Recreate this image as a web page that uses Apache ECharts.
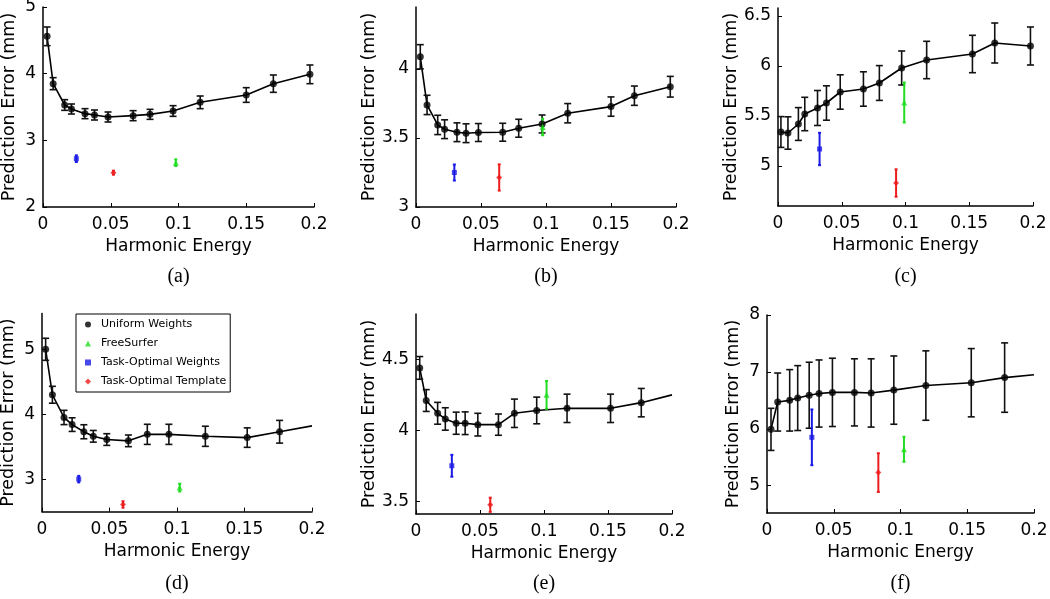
<!DOCTYPE html>
<html><head><meta charset="utf-8">
<script src="https://cdn.jsdelivr.net/npm/echarts@6/dist/echarts.min.js"></script>
<style>html,body{margin:0;padding:0;background:#fff}#c{width:1050px;height:599px}</style>
</head><body><div id="c"></div>
<script>
// ---------- tick labels ----------
const xTicks = [0, 0.05, 0.1, 0.15, 0.2];
const aYTicks = [2, 3, 4, 5];
const bYTicks = [3, 3.5, 4];
const cYTicks = [5, 5.5, 6, 6.5];
const dYTicks = [3, 4, 5];
const eYTicks = [3.5, 4, 4.5];
const fYTicks = [5, 6, 7, 8];

// ---------- panel (a) ----------
const aX   = [0.003, 0.0075, 0.016, 0.021, 0.031, 0.038, 0.048, 0.0665, 0.079, 0.096, 0.116, 0.150, 0.170, 0.197];
const aY   = [4.56, 3.85, 3.53, 3.47, 3.40, 3.38, 3.35, 3.37, 3.39, 3.44, 3.57, 3.68, 3.85, 3.99];
const aErr = [0.14, 0.09, 0.08, 0.075, 0.075, 0.075, 0.075, 0.075, 0.075, 0.08, 0.095, 0.11, 0.13, 0.14];
const aFS  = [0.098, 2.665, 0.05];   // FreeSurfer [x, y, err]
const aTOW = [0.0246, 2.725, 0.05];  // Task-Optimal Weights
const aTOT = [0.052, 2.515, 0.03];   // Task-Optimal Template

// ---------- panel (b) ----------
const bX   = [0.0033, 0.0085, 0.0167, 0.022, 0.0315, 0.0385, 0.048, 0.0667, 0.079, 0.097, 0.1167, 0.150, 0.168, 0.1956];
const bY   = [4.089, 3.74, 3.595, 3.564, 3.542, 3.535, 3.54, 3.542, 3.571, 3.602, 3.68, 3.728, 3.807, 3.872];
const bErr = [0.088, 0.07, 0.07, 0.068, 0.068, 0.068, 0.065, 0.065, 0.065, 0.065, 0.07, 0.07, 0.07, 0.075];
const bFS  = [0.0974, 3.58, 0.06];
const bTOW = [0.0295, 3.25, 0.058];
const bTOT = [0.064, 3.214, 0.095];

// ---------- panel (c) ----------
const cX   = [0.0023, 0.0078, 0.016, 0.021, 0.031, 0.038, 0.0488, 0.067, 0.0795, 0.097, 0.1166, 0.1525, 0.170, 0.198];
const cY   = [5.34, 5.33, 5.42, 5.52, 5.58, 5.63, 5.74, 5.77, 5.83, 5.98, 6.06, 6.12, 6.23, 6.20];
const cErr = [0.154, 0.162, 0.164, 0.167, 0.175, 0.172, 0.172, 0.172, 0.174, 0.17, 0.187, 0.187, 0.2, 0.19];
const cFS  = [0.099, 5.635, 0.2];
const cTOW = [0.0326, 5.17, 0.162];
const cTOT = [0.0926, 4.83, 0.137];

// ---------- panel (d) ----------
const dX   = [0.0027, 0.0077, 0.0163, 0.0223, 0.031, 0.038, 0.048, 0.064, 0.078, 0.094, 0.121, 0.152, 0.176];
const dY   = [5.00, 4.30, 3.95, 3.84, 3.73, 3.66, 3.61, 3.59, 3.69, 3.69, 3.66, 3.64, 3.73];
const dErr = [0.17, 0.13, 0.11, 0.105, 0.108, 0.09, 0.09, 0.09, 0.155, 0.155, 0.155, 0.15, 0.175];
const dTail = [0.2, 3.82];
const dFS  = [0.102, 2.87, 0.06];
const dTOW = [0.0272, 3.0, 0.05];
const dTOT = [0.060, 2.61, 0.05];

// ---------- panel (e) ----------
const eX   = [0.0029, 0.008, 0.0169, 0.0229, 0.0314, 0.0384, 0.0483, 0.0644, 0.0769, 0.0943, 0.118, 0.152, 0.176];
const eY   = [4.44, 4.21, 4.12, 4.08, 4.05, 4.05, 4.04, 4.04, 4.12, 4.14, 4.155, 4.155, 4.195];
const eErr = [0.08, 0.077, 0.077, 0.079, 0.078, 0.08, 0.08, 0.075, 0.1, 0.094, 0.1, 0.1, 0.1];
const eTail = [0.2, 4.25];
const eFS  = [0.102, 4.25, 0.098];
const eTOW = [0.028, 3.75, 0.077];
const eTOT = [0.058, 3.475, 0.05];

// ---------- panel (f) ----------
const fX   = [0.003, 0.008, 0.017, 0.023, 0.0316, 0.039, 0.049, 0.0655, 0.078, 0.095, 0.119, 0.153, 0.178];
const fY   = [5.99, 6.47, 6.50, 6.54, 6.59, 6.62, 6.64, 6.64, 6.63, 6.68, 6.76, 6.81, 6.90];
const fErr = [0.37, 0.51, 0.54, 0.57, 0.58, 0.59, 0.60, 0.59, 0.60, 0.60, 0.61, 0.60, 0.61];
const fTail = [0.2, 6.95];
const fFS  = [0.1026, 5.64, 0.22];
const fTOW = [0.0336, 5.85, 0.49];
const fTOT = [0.0834, 5.23, 0.34];

const captions = ['(a)', '(b)', '(c)', '(d)', '(e)', '(f)'];

// ---------- layout (pixels) ----------
const grids = [
  {left: 43,  top: 7,     width: 271, height: 200, ymin: 2,    ymax: 5},
  {left: 416, top: 7,     width: 260, height: 200, ymin: 3,    ymax: 4.45},
  {left: 778, top: 8,     width: 255, height: 198, ymin: 4.6,  ymax: 6.58},
  {left: 42,  top: 313.6, width: 270, height: 198, ymin: 2.5,  ymax: 5.55},
  {left: 416, top: 314,   width: 256, height: 200, ymin: 3.41, ymax: 4.82},
  {left: 767, top: 315,   width: 267, height: 198, ymin: 4.52, ymax: 8}
];

const panels = [
  {X: aX, Y: aY, E: aErr, tail: null,  FS: aFS, TOW: aTOW, TOT: aTOT, yt: aYTicks},
  {X: bX, Y: bY, E: bErr, tail: null,  FS: bFS, TOW: bTOW, TOT: bTOT, yt: bYTicks},
  {X: cX, Y: cY, E: cErr, tail: null,  FS: cFS, TOW: cTOW, TOT: cTOT, yt: cYTicks},
  {X: dX, Y: dY, E: dErr, tail: dTail, FS: dFS, TOW: dTOW, TOT: dTOT, yt: dYTicks},
  {X: eX, Y: eY, E: eErr, tail: eTail, FS: eFS, TOW: eTOW, TOT: eTOT, yt: eYTicks},
  {X: fX, Y: fY, E: fErr, tail: fTail, FS: fFS, TOW: fTOW, TOT: fTOT, yt: fYTicks}
];

const BLACK = '#000000', GREEN = '#22dd22', BLUE = '#1a1ae6', RED = '#ee1c1c';
const FONT = 'DejaVu Sans';

function errRender(capW, lw, color) {
  return function (params, api) {
    const x = api.value(0), lo = api.value(1), hi = api.value(2);
    const p1 = api.coord([x, lo]), p2 = api.coord([x, hi]);
    const st = {stroke: color, lineWidth: lw};
    const ch = [{type: 'line', shape: {x1: p1[0], y1: p1[1], x2: p2[0], y2: p2[1]}, style: st}];
    if (capW > 0) {
      ch.push({type: 'line', shape: {x1: p1[0] - capW, y1: p1[1], x2: p1[0] + capW, y2: p1[1]}, style: st});
      ch.push({type: 'line', shape: {x1: p2[0] - capW, y1: p2[1], x2: p2[0] + capW, y2: p2[1]}, style: st});
    }
    return {type: 'group', children: ch};
  };
}

const gridOpt = [], xAxes = [], yAxes = [], series = [], graphics = [];

grids.forEach((g, i) => {
  gridOpt.push({left: g.left, top: g.top, width: g.width, height: g.height, outerBoundsMode: 'none', containLabel: false});
  xAxes.push({
    gridIndex: i, type: 'value', min: 0, max: 0.2, interval: 0.05,
    axisLine: {show: true, onZero: false, lineStyle: {color: BLACK, width: 1.5}},
    axisTick: {show: true, inside: true, length: 4, lineStyle: {color: BLACK, width: 1}, customValues: xTicks},
    axisLabel: {margin: 9, color: BLACK, fontFamily: FONT, fontSize: 17, customValues: xTicks, showMaxLabel: true, showMinLabel: true},
    splitLine: {show: false},
    name: 'Harmonic Energy', nameLocation: 'middle', nameGap: 31,
    nameTextStyle: {color: BLACK, fontFamily: FONT, fontSize: 17}
  });
  const p = panels[i];
  yAxes.push({
    gridIndex: i, type: 'value', min: g.ymin, max: g.ymax,
    axisLine: {show: true, onZero: false, lineStyle: {color: BLACK, width: 1.5}},
    axisTick: {show: true, inside: true, length: 4, lineStyle: {color: BLACK, width: 1}, customValues: p.yt},
    axisLabel: {margin: 7, color: BLACK, fontFamily: FONT, fontSize: 17, customValues: p.yt},
    splitLine: {show: false},
    name: 'Prediction Error (mm)', nameLocation: 'middle', nameGap: 25,
    nameTextStyle: {color: BLACK, fontFamily: FONT, fontSize: 17.5}
  });

  const linePts = p.X.map((x, k) => [x, p.Y[k]]);
  if (p.tail) linePts.push(p.tail);
  series.push({
    type: 'line', xAxisIndex: i, yAxisIndex: i, data: linePts, symbol: 'none', showSymbol: false,
    lineStyle: {color: BLACK, width: 1.6}, silent: true, z: 2, animation: false
  });
  series.push({
    type: 'custom', xAxisIndex: i, yAxisIndex: i, renderItem: errRender(3.5, 1.6, '#111111'),
    data: p.X.map((x, k) => [x, p.Y[k] - p.E[k], p.Y[k] + p.E[k]]),
    encode: {x: 0, y: [1, 2]}, silent: true, z: 3, animation: false
  });
  series.push({
    name: 'Uniform Weights', type: 'scatter', xAxisIndex: i, yAxisIndex: i, symbol: 'circle', symbolSize: 7,
    itemStyle: {color: BLACK}, data: p.X.map((x, k) => [x, p.Y[k]]), z: 4, silent: true, animation: false
  });
  const methods = [
    {name: 'FreeSurfer', d: p.FS, color: GREEN, symbol: 'triangle', size: 6},
    {name: 'Task-Optimal Weights', d: p.TOW, color: BLUE, symbol: 'rect', size: 5},
    {name: 'Task-Optimal Template', d: p.TOT, color: RED, symbol: 'diamond', size: 6}
  ];
  methods.forEach(m => {
    series.push({
      type: 'custom', xAxisIndex: i, yAxisIndex: i, renderItem: errRender(1.5, 2, m.color),
      data: [[m.d[0], m.d[1] - m.d[2], m.d[1] + m.d[2]]],
      encode: {x: 0, y: [1, 2]}, silent: true, z: 3, animation: false
    });
    series.push({
      name: m.name, type: 'scatter', xAxisIndex: i, yAxisIndex: i, symbol: m.symbol, symbolSize: m.size,
      itemStyle: {color: m.color}, data: [[m.d[0], m.d[1]]], z: 4, silent: true, animation: false
    });
  });

  graphics.push({
    type: 'text', x: g.left + g.width / 2, y: (i < 3 ? 277 : 584),
    style: {text: captions[i], font: '20px "Liberation Serif"', fill: BLACK, align: 'center', verticalAlign: 'middle'}
  });
});

const chart = echarts.init(document.getElementById('c'), null, {renderer: 'canvas'});
chart.setOption({
  animation: false,
  backgroundColor: '#ffffff',
  grid: gridOpt,
  xAxis: xAxes,
  yAxis: yAxes,
  series: series,
  graphic: graphics,
  legend: {
    orient: 'vertical', left: 76, top: 314, selectedMode: false,
    data: [
      {name: 'Uniform Weights', icon: 'circle'},
      {name: 'FreeSurfer', icon: 'triangle'},
      {name: 'Task-Optimal Weights', icon: 'rect'},
      {name: 'Task-Optimal Template', icon: 'diamond'}
    ],
    itemWidth: 6, itemHeight: 6, itemGap: 8,
    borderColor: BLACK, borderWidth: 1, padding: [5, 4, 5, 9],
    backgroundColor: '#ffffff',
    textStyle: {fontFamily: FONT, fontSize: 11, color: BLACK, padding: [0, 0, 0, 5]}
  }
});
</script></body></html>
